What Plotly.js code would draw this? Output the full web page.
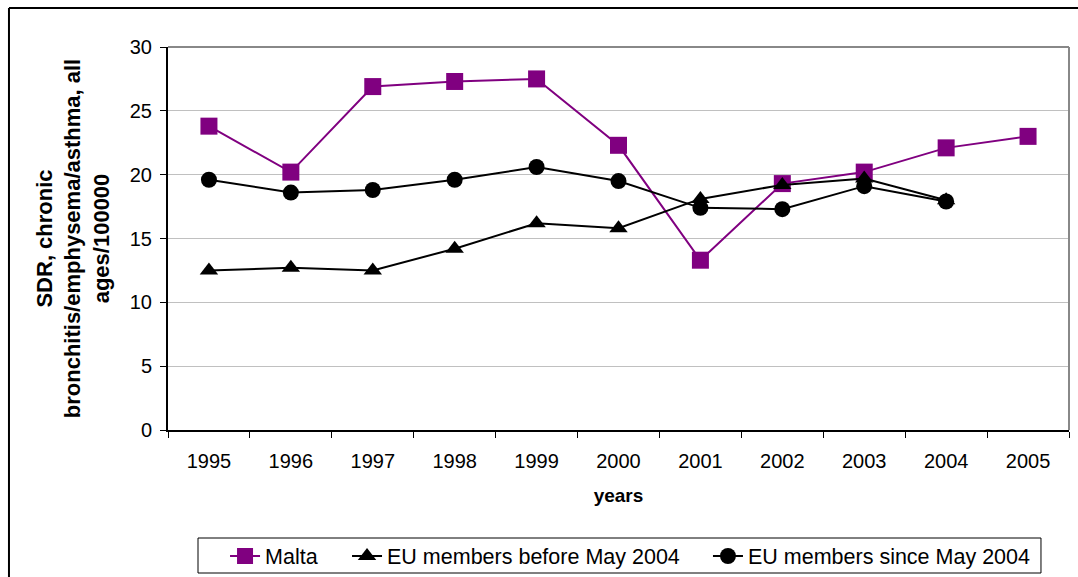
<!DOCTYPE html>
<html>
<head>
<meta charset="utf-8">
<script src="https://cdn.plot.ly/plotly-3.0.1.min.js"></script>
<style>
  html, body { margin: 0; padding: 0; background: #fff; }
  #chart { width: 1078px; height: 577px; }
</style>
</head>
<body>
<div id="chart"></div>
<script>
// Years on the category axis
const years = ['1995', '1996', '1997', '1998', '1999', '2000', '2001', '2002', '2003', '2004', '2005'];

// Standardised death rates, chronic bronchitis/emphysema/asthma, per 100000
const malta = [23.8, 20.2, 26.9, 27.3, 27.5, 22.3, 13.3, 19.3, 20.2, 22.1, 23.0];
const euBefore = [12.5, 12.7, 12.5, 14.2, 16.2, 15.8, 18.1, 19.2, 19.7, 18.0];
const euSince = [19.6, 18.6, 18.8, 19.6, 20.6, 19.5, 17.4, 17.3, 19.1, 17.9];

const yTicks = [0, 5, 10, 15, 20, 25, 30];

const fontFamily = 'Liberation Sans, Arial, sans-serif';

const traces = [
  {
    x: years, y: malta, name: 'Malta', type: 'scatter', mode: 'lines+markers',
    line: { color: '#800080', width: 2 },
    marker: { symbol: 'square', size: 17, color: '#800080' },
    legend: 'legend'
  },
  {
    x: years.slice(0, euBefore.length), y: euBefore, name: 'EU members before May 2004',
    type: 'scatter', mode: 'lines+markers',
    line: { color: '#000000', width: 2 },
    marker: { symbol: 'triangle-up', size: 16, color: '#000000' },
    legend: 'legend2'
  },
  {
    x: years.slice(0, euSince.length), y: euSince, name: 'EU members since May 2004',
    type: 'scatter', mode: 'lines+markers',
    line: { color: '#000000', width: 2 },
    marker: { symbol: 'circle', size: 16, color: '#000000' },
    legend: 'legend3'
  }
];

// one legend per series, laid out side by side inside a single framed box
function legendAt(x) {
  return {
    orientation: 'h', x: x, xanchor: 'left', y: -0.329, yanchor: 'middle',
    borderwidth: 0, bgcolor: 'rgba(0,0,0,0)',
    font: { family: fontFamily, size: 21.5 }
  };
}

const layout = {
  width: 1078, height: 577,
  margin: { l: 168, r: 9, t: 47, b: 147, autoexpand: false },
  paper_bgcolor: '#ffffff', plot_bgcolor: '#ffffff',
  font: { family: fontFamily, color: '#000000', size: 20 },
  showlegend: true,
  legend: legendAt(0.0633),
  legend2: legendAt(0.1987),
  legend3: legendAt(0.5993),
  xaxis: {
    type: 'category', categoryorder: 'array', categoryarray: years,
    range: [-0.5, years.length - 0.5],
    showline: true, linecolor: '#000000', linewidth: 2,
    ticks: 'outside', tickson: 'boundaries', ticklen: 6, tickcolor: '#000000', tickwidth: 1,
    showgrid: false, zeroline: false,
    tickfont: { size: 20 }, ticklabelstandoff: 12,
    title: { text: '<b>years</b>', font: { size: 19 }, standoff: 18 }
  },
  yaxis: {
    range: [0, 30], tickvals: yTicks, ticktext: yTicks.map(String),
    showline: true, linecolor: '#000000', linewidth: 2,
    ticks: 'outside', ticklen: 6, tickcolor: '#000000', tickwidth: 1,
    showgrid: true, gridcolor: '#c0c0c0', gridwidth: 1, zeroline: false,
    tickfont: { size: 20 }, ticklabelstandoff: 4,
    title: {
      text: '<b>SDR, chronic<br>bronchitis/emphysema/asthma, all<br>ages/100000</b>',
      font: { size: 22 }, standoff: 14
    }
  },
  shapes: [
    // gray frame on the top and right of the plot area
    { type: 'line', xref: 'paper', yref: 'paper', x0: 0, x1: 1, y0: 1, y1: 1,
      line: { color: '#888888', width: 2 } },
    { type: 'line', xref: 'paper', yref: 'paper', x0: 1, x1: 1, y0: 0, y1: 1,
      line: { color: '#888888', width: 2 } },
    // outer chart frame (left and top edges)
    { type: 'line', xref: 'paper', yref: 'paper', x0: -0.1765, x1: 1.2, y0: 1.1018, y1: 1.1018,
      line: { color: '#000000', width: 2 } },
    { type: 'line', xref: 'paper', yref: 'paper', x0: -0.1765, x1: -0.1765, y0: -0.5, y1: 1.1018,
      line: { color: '#000000', width: 2 } },
    // legend frame
    { type: 'rect', xref: 'paper', yref: 'paper', x0: 0.0333, x1: 0.9689, y0: -0.3734, y1: -0.282,
      line: { color: '#000000', width: 1 }, layer: 'below' }
  ]
};

Plotly.newPlot('chart', traces, layout, { displayModeBar: false, staticPlot: true });
</script>
</body>
</html>
